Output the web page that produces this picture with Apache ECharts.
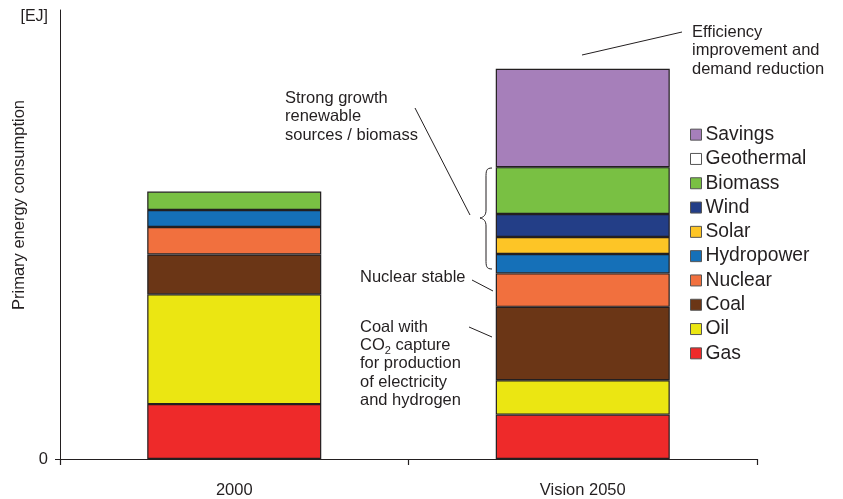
<!DOCTYPE html>
<html style="height: 100%">
<head>
  <meta charset="utf-8">
  <title>Primary energy consumption 2000 / Vision 2050</title>
  <style type="text/css">
    body { margin: 0; height: 100%; background: #fff; }
    #container { width: 843px; height: 499px; }
  </style>
</head>
<body>
  <div id="container"></div>
  <script type="text/javascript" src="https://cdn.jsdelivr.net/npm/echarts@6/dist/echarts.min.js"></script>
  <script type="text/javascript">
    // values (arbitrary EJ scale, axis max 450)
    var years = ['2000', 'Vision 2050'];
    var gas = [55, 44.5];
    var oil = [110, 34.5];
    var coal = [40, 73.5];
    var nuclear = [27.5, 33.5];
    var hydropower = [17, 19.5];
    var solar = [null, 17];
    var wind = [null, 23];
    var biomass = [18.5, 47];
    var geothermal = [null, null];
    var savings = [null, 98.5];

    var legendOrder = ['Savings', 'Geothermal', 'Biomass', 'Wind', 'Solar', 'Hydropower', 'Nuclear', 'Coal', 'Oil', 'Gas'];

    var FONT = '"Liberation Sans", Arial, Helvetica, sans-serif';
    var INK = '#231f20';

    function bar(name, data, color) {
      return {
        name: name,
        type: 'bar',
        stack: 'energy',
        barWidth: 174,
        data: data,
        itemStyle: { color: color, borderColor: INK, borderWidth: 1.2 },
        emphasis: { disabled: true }
      };
    }

    function note(x, y, text) {
      return {
        type: 'text', x: x, y: y, silent: true,
        style: { text: text, fontFamily: FONT, fontSize: 16.5, lineHeight: 18.5, fill: INK, verticalAlign: 'top' }
      };
    }

    function line(x1, y1, x2, y2) {
      return {
        type: 'line', silent: true,
        shape: { x1: x1, y1: y1, x2: x2, y2: y2 },
        style: { stroke: INK, lineWidth: 1 }
      };
    }

    function curve(x1, y1, cx1, cy1, cx2, cy2, x2, y2) {
      return {
        type: 'bezierCurve', silent: true,
        shape: { x1: x1, y1: y1, cpx1: cx1, cpy1: cy1, cpx2: cx2, cpy2: cy2, x2: x2, y2: y2 },
        style: { stroke: INK, fill: null, lineWidth: 1 }
      };
    }

    var chart = echarts.init(document.getElementById('container'));

    chart.setOption({
      animation: false,
      grid: { left: 60, right: 86, top: 10, bottom: 39 },
      legend: {
        orient: 'vertical',
        left: 685,
        top: 117.5,
        data: legendOrder,
        icon: 'rect',
        itemWidth: 11,
        itemHeight: 11,
        itemGap: 0,
        selectedMode: false,
        itemStyle: { borderColor: '#555', borderWidth: 1 },
        textStyle: { fontFamily: FONT, fontSize: 19.3, lineHeight: 24.3, color: INK, padding: [0, 0, 0, -1] }
      },
      xAxis: {
        type: 'category',
        data: years,
        axisLine: { lineStyle: { color: INK, width: 1 } },
        axisTick: { show: true, length: 6, lineStyle: { color: INK, width: 1.2 } },
        axisLabel: { fontFamily: FONT, fontSize: 16.5, color: INK, margin: 23 }
      },
      yAxis: {
        type: 'value',
        min: 0,
        max: 450,
        splitLine: { show: false },
        axisLine: { show: true, lineStyle: { color: INK, width: 1 } },
        axisTick: { show: true, length: 5, customValues: [0], lineStyle: { color: INK } },
        axisLabel: { fontFamily: FONT, fontSize: 16.5, color: INK, margin: 12, customValues: [0] }
      },
      series: [
        bar('Gas', gas, '#ee2a2a'),
        bar('Oil', oil, '#ebe612'),
        bar('Coal', coal, '#6b3616'),
        bar('Nuclear', nuclear, '#f1703e'),
        bar('Hydropower', hydropower, '#1570b8'),
        bar('Solar', solar, '#fdc526'),
        bar('Wind', wind, '#233e87'),
        bar('Biomass', biomass, '#79c043'),
        bar('Geothermal', geothermal, '#ffffff'),
        bar('Savings', savings, '#a67fba')
      ],
      graphic: [
        {
          type: 'text', x: 48, y: 17, silent: true,
          style: { text: '[EJ]', fontFamily: FONT, fontSize: 16, fill: INK, align: 'right', verticalAlign: 'middle' }
        },
        {
          type: 'text', x: 19, y: 205, rotation: Math.PI / 2, silent: true,
          style: { text: 'Primary energy consumption', fontFamily: FONT, fontSize: 16.5, fill: INK, align: 'center', verticalAlign: 'middle' }
        },
        note(692, 23, 'Efficiency\nimprovement and\ndemand reduction'),
        line(582, 55, 682, 32),
        note(285, 89, 'Strong growth\nrenewable\nsources / biomass'),
        line(415, 108, 470, 215),
        // curly brace grouping the renewables
        curve(492, 168, 486, 168, 486, 171, 486, 178),
        line(486, 178, 486, 210),
        curve(486, 210, 486, 215, 484, 217, 480, 218),
        curve(480, 218, 484, 219, 486, 221, 486, 226),
        line(486, 226, 486, 259),
        curve(486, 259, 486, 266, 486, 269, 492, 269),
        note(360, 268, 'Nuclear stable'),
        line(472, 280, 493, 291),
        {
          type: 'text', x: 360, y: 318, silent: true,
          style: {
            text: 'Coal with\nCO{s|2} capture\nfor production\nof electricity\nand hydrogen',
            fontFamily: FONT, fontSize: 16.5, lineHeight: 18.3, fill: INK, verticalAlign: 'top',
            rich: { s: { fontFamily: FONT, fontSize: 11, fill: INK, padding: [11, 0, 0, 0] } }
          }
        },
        line(469, 327, 492, 337)
      ]
    });
  </script>
</body>
</html>
